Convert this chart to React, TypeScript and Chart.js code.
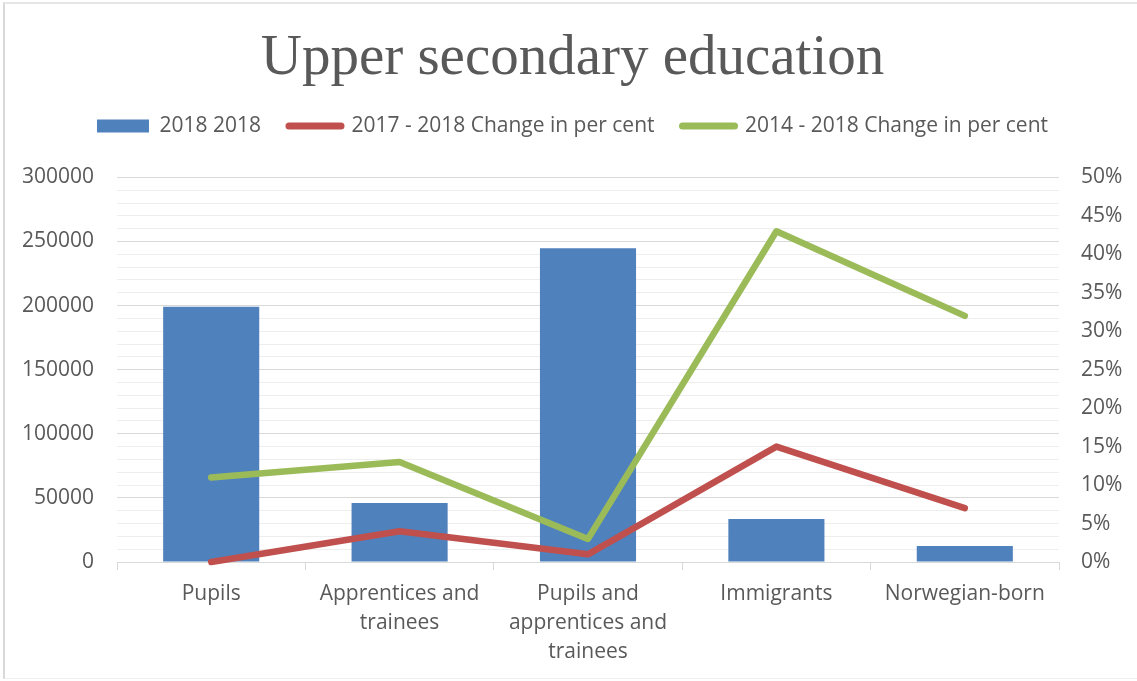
import React, { useEffect, useRef } from "react";
import { Chart, registerables } from "chart.js";

Chart.register(...registerables);

const categories: (string | string[])[] = [
  "Pupils",
  ["Apprentices and", "trainees"],
  ["Pupils and", "apprentices and", "trainees"],
  "Immigrants",
  "Norwegian-born",
];
const students2018 = [199200, 46100, 244800, 33600, 12400];
const change2017_2018 = [0.0, 0.04, 0.01, 0.15, 0.07];
const change2014_2018 = [0.11, 0.13, 0.03, 0.43, 0.32];
const seriesNames = ["2018 2018", "2017 - 2018 Change in per cent", "2014 - 2018 Change in per cent"];
const titleText = "Upper secondary education";

const BLUE = "#4F81BD";
const RED = "#C0504D";
const GREEN = "#9BBB59";
const TEXT = "#595959";
const FONT = "'Open Sans', 'Liberation Sans', sans-serif";

export default function App() {
  const ref = useRef<HTMLCanvasElement | null>(null);

  useEffect(() => {
    if (!ref.current) return;
    const legendMargin = {
      id: "legendMargin",
      beforeInit(chart: any) {
        const origFit = chart.legend.fit;
        chart.legend.fit = function () {
          origFit.bind(chart.legend)();
          this.height += 31;
        };
      },
    };
    const chart = new Chart(ref.current, {
      type: "bar",
      data: {
        labels: categories as any,
        datasets: [
          {
            type: "bar",
            label: seriesNames[0],
            data: students2018,
            backgroundColor: BLUE,
            borderWidth: 0,
            barPercentage: 0.51,
            categoryPercentage: 1,
            yAxisID: "y",
            order: 3,
          },
          {
            type: "line",
            label: seriesNames[1],
            data: change2017_2018,
            borderColor: RED,
            backgroundColor: RED,
            borderWidth: 6.5,
            pointRadius: 0,
            borderCapStyle: "round",
            borderJoinStyle: "round",
            yAxisID: "y1",
            order: 2,
            clip: false as any,
          },
          {
            type: "line",
            label: seriesNames[2],
            data: change2014_2018,
            borderColor: GREEN,
            backgroundColor: GREEN,
            borderWidth: 6.5,
            pointRadius: 0,
            borderCapStyle: "round",
            borderJoinStyle: "round",
            yAxisID: "y1",
            order: 1,
            clip: false as any,
          },
        ] as any,
      },
      options: {
        animation: false,
        responsive: false,
        maintainAspectRatio: false,
        layout: { padding: { left: 8, right: 0, top: 0, bottom: 0 } },
        plugins: {
          tooltip: { enabled: false },
          title: {
            display: true,
            text: titleText,
            color: TEXT,
            font: { family: "'Liberation Serif', serif", size: 57, weight: "normal" as any, lineHeight: 1.2 },
            padding: { top: 25, bottom: -6 },
          },
          legend: {
            display: true,
            position: "top",
            labels: {
              color: TEXT,
              font: { family: FONT, size: 21 },
              usePointStyle: true,
              pointStyleWidth: 52,
              boxHeight: 13,
              padding: 28,
              generateLabels(chart: any) {
                const base = Chart.defaults.plugins.legend.labels.generateLabels(chart);
                return base
                  .map((item: any) => {
                    const ds = chart.data.datasets[item.datasetIndex];
                    if (ds.type === "bar") {
                      return { ...item, pointStyle: "rect", fillStyle: BLUE, strokeStyle: BLUE, lineWidth: 0 };
                    }
                    return {
                      ...item,
                      pointStyle: "line",
                      fillStyle: ds.borderColor,
                      strokeStyle: ds.borderColor,
                      lineWidth: 7,
                      lineCap: "round",
                    };
                  })
                  .sort((a: any, b: any) => a.datasetIndex - b.datasetIndex);
              },
            },
          },
        },
        scales: {
          x: {
            offset: true,
            grid: {
              display: true,
              drawOnChartArea: false,
              drawTicks: true,
              tickLength: 8,
              color: "#d9d9d9",
              offset: true,
            },
            border: { display: true, color: "#d9d9d9" },
            ticks: {
              color: TEXT,
              font: { family: FONT, size: 21, lineHeight: 1.38 },
              padding: 10,
              maxRotation: 0,
              autoSkip: false,
            },
            afterFit(scale: any) {
              scale.height = 119;
            },
          },
          y: {
            position: "left",
            min: 0,
            max: 300000,
            border: { display: false },
            grid: {
              drawTicks: false,
              color: (ctx: any) =>
                ctx.tick && ctx.tick.value % 50000 === 0 ? "#d9d9d9" : "#eeeeee",
              lineWidth: 1,
            },
            ticks: {
              stepSize: 10000,
              autoSkip: false,
              color: TEXT,
              font: { family: FONT, size: 21 },
              padding: 23,
              callback: (v: any) => (Number(v) % 50000 === 0 ? String(v) : ""),
            },
            afterFit(scale: any) {
              scale.width = 109;
            },
          },
          y1: {
            position: "right",
            min: 0,
            max: 0.5,
            border: { display: false },
            grid: { drawOnChartArea: false, drawTicks: false },
            ticks: {
              stepSize: 0.05,
              color: TEXT,
              font: { family: FONT, size: 21 },
              padding: 22,
              callback: (v: any) => Math.round(Number(v) * 100) + "%",
            },
            afterFit(scale: any) {
              scale.width = 78;
            },
          },
        },
      } as any,
      plugins: [legendMargin],
    });
    return () => chart.destroy();
  }, []);

  return (
    <div style={{ position: "absolute", left: 0, top: 0, width: 1137, height: 681, background: "#fff", overflow: "hidden" }}>
      <canvas ref={ref} width={1137} height={681} style={{ position: "absolute", left: 0, top: 0 }} />
      <div
        style={{
          position: "absolute",
          left: 3,
          top: 2,
          width: 1150,
          height: 677,
          boxSizing: "border-box",
          borderLeft: "2px solid #d9d9d9",
          borderTop: "2px solid #e6e6e6",
          borderBottom: "1px solid #f0f0f0",
          pointerEvents: "none",
        }}
      />
    </div>
  );
}
